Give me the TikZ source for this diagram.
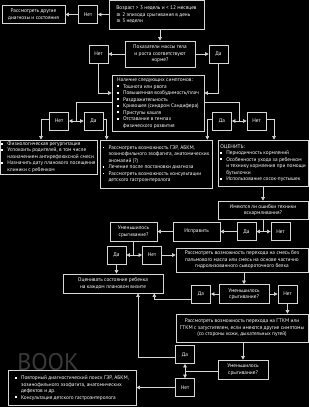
\documentclass[tikz,border=0pt]{standalone}
\usepackage{fontspec}
\setmainfont{PT Sans}
\newfontfamily\symfont{DejaVu Sans}
\usetikzlibrary{arrows.meta,calc}
\definecolor{boxline}{RGB}{215,215,215}
\definecolor{wmark}{RGB}{58,58,58}
\newcommand\sqbullet{\rule[0.7pt]{1.9pt}{1.9pt}}
\newcommand\bl{\makebox[6pt][l]{\sqbullet}}
\newcommand\ind{\hspace*{6pt}}
\tikzset{
  flowbox/.style={rectangle, draw=boxline, line width=0.7pt, fill=black,
                  text=white, align=center, font=\fontsize{5.3}{6.5}\selectfont,
                  inner sep=1.5pt},
  flowlist/.style={flowbox, align=left},
  ynbox/.style={flowbox, minimum width=19pt, minimum height=18pt},
  arr/.style={-{Triangle[length=3.6pt,width=3.6pt]}, line width=0.6pt, color=boxline},
  ln/.style={line width=0.6pt, color=boxline},
}

\begin{document}
\begin{tikzpicture}[x=1pt,y=-1pt]
  \fill[black] (0,0) rectangle (309,407);
  \useasboundingbox (0,0) rectangle (309,407);
  \node[flowbox, align=left, minimum width=95pt, minimum height=29pt] (age) at (156.5,14.5)
       {Возраст > 3 недель и < 12 месяцев\\{\symfont≥} 2 эпизода срыгивания в день\\{\symfont≥} 3 недели};
  \node[ynbox] (no1) at (88,14.5) {Нет};
  \node[flowbox, minimum width=63pt, minimum height=18pt] (other) at (33.5,14.5) {Рассмотреть другие\\диагнозы и состояния};
  \node[flowbox, minimum width=70pt, minimum height=26pt] (norm) at (160,54) {Показатели массы тела\\и роста соответствуют\\норме?};
  \node[ynbox] (no2) at (98.5,54) {Нет};
  \node[ynbox] (yes2) at (218.5,54) {Да};
  \node[flowlist, minimum width=92pt, minimum height=56pt] (symp) at (158,103)
       {Наличие следующих симптомов:\\\bl Тошнота или рвота\\\bl Повышенная возбудимость/плач\\\bl Раздражительность\\\bl Кривошея (синдром Сандифера)\\\bl Приступы кашля\\\bl Отставание в темпах\\\ind физического развития};
  \node[ynbox] (no3) at (59,121) {Нет};
  \node[ynbox] (yes3) at (93.5,121) {Да};
  \node[ynbox] (yes4) at (222,121) {Да};
  \node[ynbox] (no4) at (256.5,121) {Нет};
  \node[flowlist, minimum width=93pt, minimum height=34pt] (phys) at (48.5,157)
       {\bl Физиологическая регургитация\\\bl Успокоить родителей, в том числе\\\ind назначением антирефлюксной смеси\\\bl Назначить дату планового посещения\\\ind клиники с ребенком};
  \node[flowlist, minimum width=112pt, minimum height=48pt] (gerd) at (156,164)
       {\bl Рассмотреть возможность ГЭР, АБКМ,\\\ind эозинофильного эзофагита, анатомических\\\ind аномалий (?)\\\bl Лечение после постановки диагноза\\\bl Рассмотреть возможность консультации\\\ind детского гастроэнтеролога};
  \node[flowlist, minimum width=90pt, minimum height=46pt] (check) at (263,163)
       {ОЦЕНИТЬ:\\\bl Периодичность кормлений\\\bl Особенности ухода за ребенком\\\ind и технику кормления при помощи\\\ind бутылочки\\\bl Использование сосок-пустышек};
  \node[flowbox, minimum width=90pt, minimum height=18pt] (tech) at (263,210) {Имеются ли ошибки техники\\вскармливания?};
  \node[ynbox] (yes5) at (246.5,231.5) {Да};
  \node[ynbox] (no5) at (280.5,231.5) {Нет};
  \node[flowbox, minimum width=47pt, minimum height=19pt] (fix) at (196.5,231.5) {Исправить};
  \node[flowbox, minimum width=47pt, minimum height=19pt] (less1) at (133.5,231.5) {Уменьшилось\\срыгивание?};
  \node[ynbox] (yes6) at (116.5,255) {Да};
  \node[ynbox] (no6) at (152,255) {Нет};
  \node[flowbox, minimum width=132pt, minimum height=24pt] (palm) at (242,260)
       {Рассмотреть возможность перехода на смесь без\\пальмового масла или смесь на основе частично\\гидролизованного сывороточного белка};
  \node[flowbox, minimum width=100pt, minimum height=19pt] (visit) at (113,283.5) {Оценивать состояние ребенка\\на каждом плановом визите};
  \node[flowbox, minimum width=50pt, minimum height=19pt] (less2) at (244,294) {Уменьшилось\\срыгивание?};
  \node[ynbox] (yes7) at (201,294) {Да};
  \node[ynbox] (no7) at (287.5,294) {Нет};
  \node[flowbox, minimum width=132pt, minimum height=28pt] (gtkm) at (242,328)
       {Рассмотреть возможность перехода на ГТКМ или\\ГТКМ с загустителем, если имеются другие симптомы\\(со стороны кожи, дыхательных путей)};
  \node[flowbox, minimum width=50pt, minimum height=19pt] (less3) at (243,369.5) {Уменьшилось\\срыгивание?};
  \node[ynbox] (yes8) at (185,354.5) {Да};
  \node[ynbox] (no8) at (185,387.5) {Нет};
  \node[font=\fontsize{24}{24}\selectfont, text=wmark, inner sep=0pt, anchor=base] (mark) at (48,370) {BOOK};
  \node[flowlist, minimum width=128pt, minimum height=35pt] (repeat) at (72,388)
       {\bl Повторный диагностический поиск ГЭР, АБКМ,\\\ind эозинофильного эзофагита, анатомических\\\ind дефектов и др.\\\bl Консультация детского гастроэнтеролога};
  \coordinate (j1) at ($(no3.east)!.5!(yes3.west)$);
  \coordinate (j2) at ($(yes4.east)!.5!(no4.west)$);
  \coordinate (j3) at (tech.south |- yes5.east);
  \coordinate (j4) at (less1.south |- yes6.east);
  \coordinate (j5) at ($(yes8.south)!.5!(no8.north)$);
  \draw[arr] (age) -- (no1);
  \draw[arr] (no1) -- (other);
  \draw[arr] (norm.north |- age.south) -- (norm.north);
  \draw[arr] (norm) -- (no2);
  \draw[arr] (norm) -- (yes2);
  \draw[arr] (no2.south) |- ([yshift=10pt]symp.west);
  \draw[arr] (yes2.south) |- ([yshift=10pt]symp.east);
  \draw[ln] ([yshift=1pt]symp.west) -| (j1);
  \draw[arr] (j1) -- (no3);
  \draw[arr] (j1) -- (yes3);
  \draw[ln] ([yshift=1pt]symp.east) -| (j2);
  \draw[arr] (j2) -- (yes4);
  \draw[arr] (j2) -- (no4);
  \draw[arr] ([yshift=2pt]no3.west) -| ([xshift=-7.5pt]phys.north);
  \draw[arr] ([yshift=2pt]yes3.east) -| ([xshift=7pt]gerd.north west);
  \draw[arr] ([yshift=2pt]yes4.west) -| ([xshift=-5pt]gerd.north east);
  \draw[arr] ([yshift=2pt]no4.east) -| ([xshift=11pt]check.north);
  \draw[arr] (check) -- (tech);
  \draw[ln] (tech) -- (j3);
  \draw[arr] (j3) -- (yes5);
  \draw[arr] (j3) -- (no5);
  \draw[arr] (yes5) -- (fix);
  \draw[arr] (fix) -- (less1);
  \draw[ln] (less1) -- (j4);
  \draw[arr] (j4) -- (yes6);
  \draw[arr] (j4) -- (no6);
  \draw[arr] (no6) -- (no6 -| palm.west);
  \draw[arr] (yes6) -- (yes6 |- visit.north);
  \draw[arr] (less2.north |- palm.south) -- (less2);
  \draw[arr] (less2) -- (yes7);
  \draw[arr] (less2) -- (no7);
  \draw[arr] ([yshift=-5pt]yes7.west) -| ([xshift=-9pt]visit.south east);
  \draw[arr] (no7) -- (no7 |- gtkm.north);
  \draw[arr] (less3.north |- gtkm.south) -- (less3);
  \draw[ln] (less3.west |- j5) -- (j5);
  \draw[arr] (j5) -- (yes8);
  \draw[arr] (j5) -- (no8);
  \draw[arr] (no8) -- (no8 -| repeat.east);
  \draw[arr] ([yshift=-3pt]yes8.west) -| ([xshift=25pt]visit.south);
\end{tikzpicture}
\end{document}
